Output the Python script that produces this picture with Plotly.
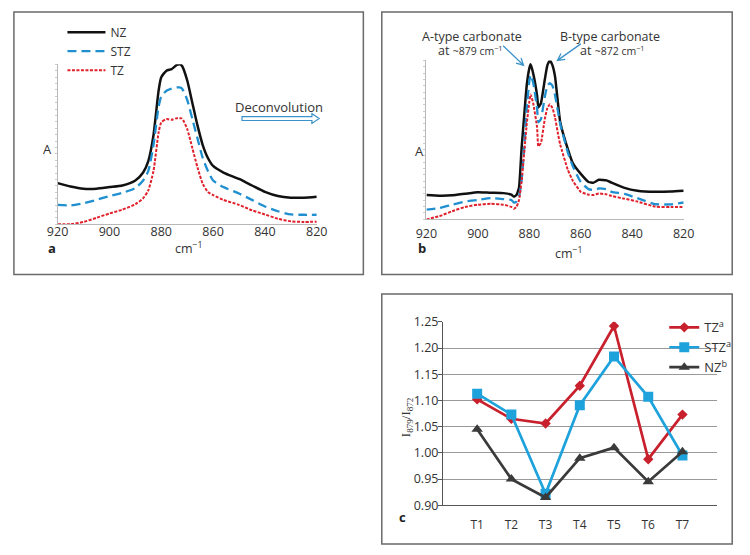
import plotly.graph_objects as go
import math

W, H = 750, 555
def px(x): return x / W
def py(y): return 1 - y / H

# ---------------- data ----------------
# Panel a: original spectra (normalised absorbance)
a_wavenumber = [920, 915, 910, 905, 900, 895, 890, 887, 885, 883, 881, 880, 878, 876, 874, 873,
                 872, 870, 868, 866, 864, 862, 860, 856, 850, 845, 840, 835, 830, 825, 820]
a_nz = [0.257, 0.236, 0.222, 0.222, 0.232, 0.242, 0.273, 0.323, 0.394, 0.556, 0.838, 0.919, 0.960, 0.970,
        0.996, 1.000, 0.990, 0.900, 0.758, 0.616, 0.495, 0.414, 0.364, 0.323, 0.283, 0.242, 0.202, 0.176,
        0.166, 0.166, 0.172]
a_stz = [0.121, 0.117, 0.131, 0.152, 0.176, 0.196, 0.226, 0.273, 0.333, 0.495, 0.737, 0.798, 0.834, 0.848,
         0.855, 0.855, 0.848, 0.778, 0.657, 0.535, 0.414, 0.333, 0.273, 0.232, 0.192, 0.152, 0.111, 0.081,
         0.061, 0.059, 0.059]
a_tz = [0.000, 0.000, 0.014, 0.040, 0.067, 0.091, 0.125, 0.162, 0.212, 0.333, 0.576, 0.636, 0.657, 0.653,
        0.663, 0.662, 0.661, 0.596, 0.475, 0.354, 0.253, 0.202, 0.182, 0.152, 0.121, 0.087, 0.061, 0.034,
        0.018, 0.014, 0.016]

# Panel b: deconvoluted spectra
b_wavenumber = [920, 915, 910, 905, 900, 895, 890, 887, 886, 885, 884, 883, 882, 881, 880, 879.5, 878.5,
                877, 876.5, 875.5, 874, 873, 872, 871, 870, 869, 868, 865, 863, 860, 857, 855, 853, 850,
                848, 843, 838, 831, 825, 820]
b_nz = [0.153, 0.149, 0.151, 0.161, 0.171, 0.167, 0.165, 0.155, 0.143, 0.153, 0.200, 0.450, 0.653, 0.845,
        0.950, 0.976, 0.918, 0.780, 0.704, 0.730, 0.878, 0.969, 1.000, 0.969, 0.898, 0.750, 0.612, 0.440,
        0.350, 0.286, 0.235, 0.231, 0.249, 0.245, 0.231, 0.198, 0.180, 0.173, 0.175, 0.180]
b_stz = [0.061, 0.071, 0.092, 0.112, 0.122, 0.133, 0.127, 0.122, 0.106, 0.112, 0.143, 0.245, 0.450, 0.700,
         0.870, 0.908, 0.860, 0.700, 0.610, 0.630, 0.770, 0.840, 0.857, 0.840, 0.780, 0.690, 0.600, 0.420,
         0.330, 0.235, 0.190, 0.184, 0.194, 0.190, 0.173, 0.160, 0.133, 0.095, 0.094, 0.106]
b_tz = [0.000, 0.020, 0.051, 0.078, 0.092, 0.098, 0.092, 0.078, 0.067, 0.078, 0.122, 0.240, 0.420, 0.600,
        0.740, 0.786, 0.730, 0.580, 0.460, 0.480, 0.630, 0.700, 0.724, 0.700, 0.640, 0.550, 0.470, 0.310,
        0.240, 0.173, 0.155, 0.153, 0.163, 0.157, 0.147, 0.130, 0.112, 0.080, 0.077, 0.078]

spec_ticks = [920, 900, 880, 860, 840, 820]

# Panel c: I879/I872 ratios
c_categories = ["T1", "T2", "T3", "T4", "T5", "T6", "T7"]
c_tz = [1.102, 1.065, 1.056, 1.128, 1.242, 0.988, 1.073]
c_stz = [1.113, 1.073, 0.922, 1.091, 1.184, 1.107, 0.995]
c_nz = [1.045, 0.950, 0.915, 0.990, 1.010, 0.945, 1.002]

# ---------------- styling ----------------
FONT = "Open Sans"
TXT = "#333333"
BLUE_ARROW = "#3b92c9"
NZ_COL = "#111111"
STZ_COL = "#1f8fcf"
TZ_COL = "#e0202a"

fig = go.Figure()

def spec_traces(x, nz, stz, tz, xa, ya, show, sm):
    common = dict(mode="lines", xaxis=xa, yaxis=ya, showlegend=show, legend="legend", hoverinfo="skip")
    fig.add_trace(go.Scatter(x=x, y=nz, name="NZ",
                             line=dict(color=NZ_COL, width=2.5, shape="spline", smoothing=sm), **common))
    fig.add_trace(go.Scatter(x=x, y=stz, name="STZ",
                             line=dict(color=STZ_COL, width=2.3, dash="9px,5px", shape="spline", smoothing=sm),
                             **common))
    fig.add_trace(go.Scatter(x=x, y=tz, name="TZ",
                             line=dict(color=TZ_COL, width=2.0, dash="3px,1.5px", shape="spline", smoothing=sm),
                             **common))

spec_traces(a_wavenumber, a_nz, a_stz, a_tz, "x", "y", True, 0.6)
spec_traces(b_wavenumber, b_nz, b_stz, b_tz, "x2", "y2", False, 0.4)

c_common = dict(mode="lines+markers", xaxis="x3", yaxis="y3", legend="legend2", hoverinfo="skip")
fig.add_trace(go.Scatter(x=c_categories, y=c_tz, name="TZ<sup>a</sup>",
                         line=dict(color="#c8202c", width=2.7),
                         marker=dict(symbol="diamond", size=8, color="#c8202c"), **c_common))
fig.add_trace(go.Scatter(x=c_categories, y=c_stz, name="STZ<sup>a</sup>",
                         line=dict(color="#1ea2dc", width=2.7),
                         marker=dict(symbol="square", size=10, color="#1ea2dc"), **c_common))
fig.add_trace(go.Scatter(x=c_categories, y=c_nz, name="NZ<sup>b</sup>",
                         line=dict(color="#3a3a3a", width=2.7),
                         marker=dict(symbol="triangle-up", size=10, color="#3a3a3a"), **c_common))

spec_x = dict(range=[920, 820], tickvals=spec_ticks, showgrid=False, zeroline=False, showline=True,
              linecolor="#b8b8b8", linewidth=1, ticks="", tickfont=dict(family=FONT, size=12.5, color=TXT))
spec_y = dict(range=[0, 1], showgrid=False, zeroline=False, showline=True, linecolor="#b8b8b8",
              linewidth=1, ticks="outside", ticklen=2, tickcolor="#cccccc", dtick=0.04,
              showticklabels=False)

fig.update_layout(
    width=W, height=H, autosize=False,
    margin=dict(l=0, r=0, t=0, b=0),
    paper_bgcolor="white", plot_bgcolor="white",
    font=dict(family=FONT, color=TXT, size=12),
    xaxis=dict(domain=[px(48), px(315)], anchor="y", ticklabelstandoff=-4, **spec_x),
    yaxis=dict(domain=[py(222), py(57)], anchor="x", **spec_y),
    xaxis2=dict(domain=[px(428), px(693)], anchor="y2", ticklabelstandoff=3, **spec_x),
    yaxis2=dict(domain=[py(217), py(53)], anchor="x2", **spec_y),
    xaxis3=dict(domain=[px(445), px(727)], anchor="y3", type="category", range=[-1, 7],
                showgrid=False, zeroline=False, showline=True, linecolor="#555555", linewidth=1,
                ticks="", tickfont=dict(family=FONT, size=12, color=TXT), ticklabelstandoff=8),
    yaxis3=dict(domain=[py(512), py(322.7)], anchor="x3", range=[0.9, 1.25], dtick=0.05,
                tickformat=".2f", showgrid=True, gridcolor="#9a9a9a", gridwidth=1, zeroline=False,
                showline=True, linecolor="#555555", linewidth=1, ticks="outside", ticklen=4,
                tickcolor="#555555", tickfont=dict(family=FONT, size=12.5, color=TXT), ticklabelstandoff=-3),
    legend=dict(x=px(53), y=py(9), xanchor="left", yanchor="top", bgcolor="rgba(0,0,0,0)",
                itemwidth=38, font=dict(family=FONT, size=12, color=TXT), tracegroupgap=0),
    legend2=dict(x=px(673), y=py(313), xanchor="left", yanchor="top", bgcolor="rgba(0,0,0,0)",
                 itemwidth=30, font=dict(family=FONT, size=13, color=TXT)),
    showlegend=True,
)

# ---------------- annotations ----------------
def note(text, x, y, size=12, xanchor="center", yanchor="middle", textangle=0, family=FONT, color=TXT):
    fig.add_annotation(text=text, x=px(x), y=py(y), xref="paper", yref="paper", showarrow=False,
                       xanchor=xanchor, yanchor=yanchor, textangle=textangle,
                       font=dict(family=family, size=size, color=color))

note("A", 38, 144, size=13)
note("A", 421, 147, size=13)
note("cm<sup>−1</sup>", 183, 247, size=12.5)
note("cm<sup>−1</sup>", 575, 252, size=12.5)
note("<b>a</b>", 42, 247, size=13, color="#222")
note("<b>b</b>", 423, 247, size=13, color="#222")
note("<b>c</b>", 403, 524, size=13, color="#222")
note("Deconvolution", 276, 101, size=13)
note("A-type carbonate", 475, 28, size=12.5)
note("at <span style='font-size:10.5px'>~879 cm<sup>−1</sup></span>", 473, 43, size=12.5)
note("B-type carbonate", 617, 28, size=12.5)
note("at <span style='font-size:10.5px'>~872 cm<sup>−1</sup></span>", 620, 43, size=12.5)
note("I<sub>879</sub>/I<sub>872</sub>", 407, 421, size=13, textangle=-90, family="Liberation Serif")

# ---------------- shapes ----------------
def rect(x0, y0, x1, y1):
    fig.add_shape(type="rect", xref="paper", yref="paper", x0=px(x0), y0=py(y1), x1=px(x1), y1=py(y0),
                  line=dict(color="#6a6a6a", width=1.5), fillcolor="rgba(0,0,0,0)")

rect(3, 3, 363, 274)
rect(382, 3, 743, 274)
rect(382, 294, 743, 552)

def poly(points):
    return "M " + " L ".join(f"{px(x):.5f},{py(y):.5f}" for x, y in points) + " Z"

# hollow "Deconvolution" arrow
fig.add_shape(type="path", xref="paper", yref="paper",
              path=poly([(238, 111), (310, 111), (310, 108), (317.5, 113), (310, 118), (310, 115), (238, 115)]),
              line=dict(color=BLUE_ARROW, width=1.2), fillcolor="white")

def arrow(x0, y0, x1, y1, head=8, ang=28):
    dx, dy = x1 - x0, y1 - y0
    L = math.hypot(dx, dy)
    ux, uy = dx / L, dy / L
    pts = []
    for s in (1, -1):
        a = math.radians(ang) * s
        rx = ux * math.cos(a) - uy * math.sin(a)
        ry = ux * math.sin(a) + uy * math.cos(a)
        pts.append((x1 - head * rx, y1 - head * ry))
    path = (f"M {px(x0):.5f},{py(y0):.5f} L {px(x1):.5f},{py(y1):.5f} "
            f"M {px(pts[0][0]):.5f},{py(pts[0][1]):.5f} L {px(x1):.5f},{py(y1):.5f} "
            f"L {px(pts[1][0]):.5f},{py(pts[1][1]):.5f}")
    fig.add_shape(type="path", xref="paper", yref="paper", path=path,
                  line=dict(color=BLUE_ARROW, width=1.3))

arrow(507, 38, 528, 58)
arrow(587, 36, 563, 53)

fig.write_html("out.html", config={"displayModeBar": False},
               post_script="document.body.style.margin='0';")
